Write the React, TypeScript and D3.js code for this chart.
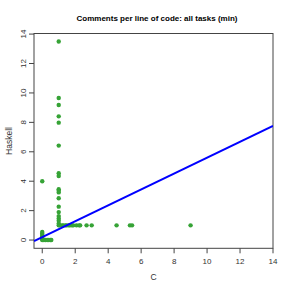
import React from "react";
import * as d3 from "d3";

const cValues = [
  1, 1, 1, 1, 1, 1, 1, 1, 1, 1, 1, 1, 1, 1, 1, 1, 1, 1, 1,
  1.07, 1.2, 1.27, 1.4, 1.48, 1.6, 1.68, 1.8, 1.88, 2.08, 2.24, 2.3, 2.69, 3.0, 4.51, 5.32, 5.45, 9.0,
  0, 0, 0, 0, 0, 0, 0, 0,
  0.1, 0.2, 0.3, 0.4, 0.5, 0.55,
];
const haskellValues = [
  13.5, 9.66, 9.18, 8.41, 7.98, 6.42, 4.54, 4.35, 3.45, 3.35, 3.24, 2.84, 2.27, 1.9, 1.63, 1.47, 1.31, 1.13, 1.0,
  1, 1, 1, 1, 1, 1, 1, 1, 1, 1, 1, 1, 1, 1, 1, 1, 1, 1,
  4.0, 0.55, 0.45, 0.35, 0.25, 0.15, 0.05, 0,
  0, 0, 0, 0, 0, 0,
];
const fitIntercept = 0.2;
const fitSlope = 0.54;
const xTicks = [0, 2, 4, 6, 8, 10, 12, 14];
const yTicks = [0, 2, 4, 6, 8, 10, 12, 14];

export default function App() {
  const left = 34, right = 273, top = 33.5, bottom = 248.3;
  const x = d3.scaleLinear().domain([-0.5, 14]).range([left, right]);
  const y = d3.scaleLinear().domain([-0.56, 14.04]).range([bottom, top]);
  const font = "'Liberation Sans', Arial, sans-serif";
  const lineData: [number, number][] = [-0.5, 14].map((v) => [v, fitIntercept + fitSlope * v]);
  const line = d3.line<[number, number]>().x((d) => x(d[0])).y((d) => y(d[1]));
  return (
    <svg width={291} height={291} style={{ position: "absolute", left: 0, top: 0, background: "#fff" }}>
      <rect x={0} y={0} width={291} height={291} fill="#fff" />
      <text x={157} y={20.5} textAnchor="middle" fontFamily={font} fontWeight="bold" fontSize={8} fill="#000">
        Comments per line of code: all tasks (min)
      </text>
      <rect x={left} y={top} width={right - left} height={bottom - top} fill="none" stroke="#444" strokeWidth={1} />
      {xTicks.map((t) => (
        <g key={"x" + t}>
          <line x1={x(t)} x2={x(t)} y1={bottom} y2={bottom + 5} stroke="#444" />
          <text x={x(t)} y={264} textAnchor="middle" fontFamily={font} fontSize={8} fill="#333">{t}</text>
        </g>
      ))}
      {yTicks.map((t) => (
        <g key={"y" + t}>
          <line x1={left - 5} x2={left} y1={y(t)} y2={y(t)} stroke="#444" />
          <text transform={`translate(25.5,${y(t)}) rotate(-90)`} textAnchor="middle" fontFamily={font} fontSize={8} fill="#333">{t}</text>
        </g>
      ))}
      <text x={153.5} y={280} textAnchor="middle" fontFamily={font} fontSize={8.5} fill="#333">C</text>
      <text transform={`translate(12,141) rotate(-90)`} textAnchor="middle" fontFamily={font} fontSize={8.5} fill="#333">Haskell</text>
      <g clipPath="url(#clip)">
        <defs>
          <clipPath id="clip">
            <rect x={left} y={top} width={right - left} height={bottom - top} />
          </clipPath>
        </defs>
        {cValues.map((c, i) => (
          <circle key={i} cx={x(c)} cy={y(haskellValues[i])} r={2.2} fill="#36a336" />
        ))}
        <path d={line(lineData) || ""} stroke="#0000ff" strokeWidth={2} fill="none" />
      </g>
    </svg>
  );
}
